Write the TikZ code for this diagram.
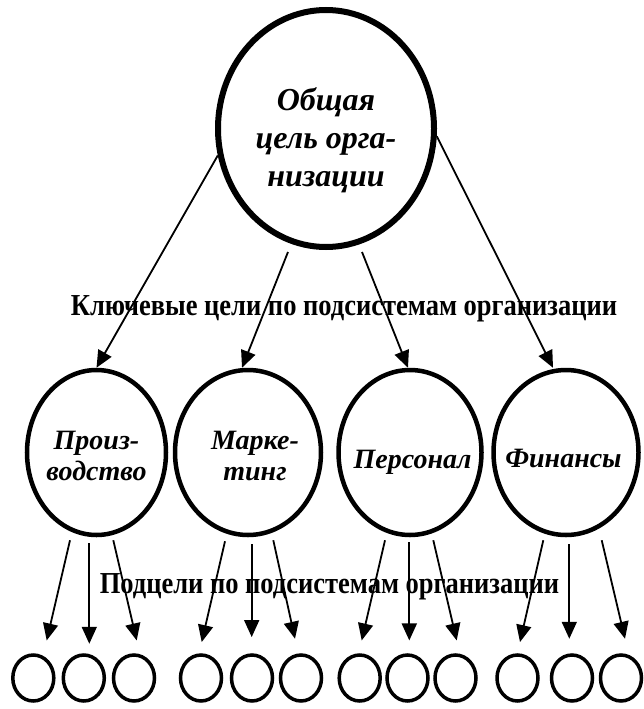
\documentclass[tikz,border=0pt]{standalone}
\usepackage{fontspec}
\setmainfont{Liberation Serif}
\usetikzlibrary{arrows.meta,shapes.geometric}
\begin{document}
\begin{tikzpicture}[x=1pt,y=-1pt,
 bigell/.style={draw, ellipse, line width=6pt, minimum width=216pt, minimum height=237pt, inner sep=0pt},
 midell/.style={draw, ellipse, line width=4.5pt, minimum height=165pt, inner sep=0pt},
 smallell/.style={draw, ellipse, line width=3.5pt, minimum width=41pt, minimum height=46pt, inner sep=0pt},
 toptxt/.style={font=\fontsize{32}{38}\selectfont\bfseries\itshape, align=center, inner sep=0pt},
 midtxt/.style={font=\fontsize{28}{31}\selectfont\bfseries\itshape, align=center, inner sep=0pt},
 lbl/.style={font=\fontsize{26.5}{30}\selectfont\bfseries, inner sep=0pt, anchor=base},
 arr/.style={line width=1.8pt, -{Triangle[length=17pt,width=15pt]}}
]
\useasboundingbox (0,0) rectangle (643,709);

% labels
\node[lbl] (keylbl) at (344,315) {\scalebox{1}[1.15]{Ключевые цели по подсистемам организации}};
\node[lbl] (sublbl) at (329.5,593) {\scalebox{1}[1.15]{Подцели по подсистемам организации}};

% top ellipse
\node[bigell] (top) at (326,128.5) {};
\node[toptxt] (toptext) at (326,140) {Общая\\цель орга-\\низации};

% middle ellipses
\node[midell, minimum width=139pt] (p1) at (96.5,452.5) {};
\node[midell, minimum width=146pt] (p2) at (248,452.5) {};
\node[midell, minimum width=143pt] (p3) at (410,452.5) {};
\node[midell, minimum width=145pt] (p4) at (566,452.5) {};
\node[midtxt] (t1) at (96.5,456) {Произ-\\водство};
\node[midtxt] (t2) at (255,456) {Марке-\\тинг};
\node[midtxt, anchor=base] (t3) at (412.5,468) {Персонал};
\node[midtxt, anchor=base] (t4) at (563.5,467) {Финансы};

% small circles
\foreach \i/\x in {1/33.3,2/83.8,3/134,4/201,5/252,6/301,7/359.7,8/407.5,9/455.5,10/517.5,11/572,12/621}
  \node[smallell] (c\i) at (\x,678) {};

% arrows from top
\draw[arr] (top.194) -- (p1.north);
\draw[arr] ([xshift=-38pt,yshift=-2pt]top.south) -- ([xshift=-6pt]p2.north);
\draw[arr] ([xshift=36pt,yshift=-2pt]top.south) -- ([xshift=-2pt]p3.north);
\draw[arr] (top.356) -- ([xshift=-13pt]p4.north);

% arrows to sub-goals
\draw[arr] ([xshift=-26.5pt,yshift=-3pt]p1.south) -- ([xshift=13.4pt,yshift=12.8pt]c1.north);
\draw[arr] ([xshift=-7.2pt,yshift=-6pt]p1.south) -- ([xshift=5.5pt,yshift=9.5pt]c2.north);
\draw[arr] ([xshift=16.8pt,yshift=-3pt]p1.south) -- ([xshift=2.7pt,yshift=12.8pt]c3.north);

\draw[arr] ([xshift=-23pt,yshift=-4pt]p2.south) -- ([xshift=0.7pt,yshift=11.2pt]c4.north);
\draw[arr] ([xshift=3.7pt,yshift=-7pt]p2.south) -- ([xshift=-0.3pt,yshift=16.2pt]c5.north);
\draw[arr] ([xshift=25.3pt,yshift=-3pt]p2.south) -- ([xshift=-6pt,yshift=14.5pt]c6.north);

\draw[arr] ([xshift=-25pt,yshift=-3pt]p3.south) -- ([xshift=2pt,yshift=12.8pt]c7.north);
\draw[arr] ([xshift=-0.7pt,yshift=-5pt]p3.south) -- ([xshift=1.8pt,yshift=12.8pt]c8.north);
\draw[arr] ([xshift=23.3pt,yshift=-3pt]p3.south) -- ([xshift=1.2pt,yshift=12.8pt]c9.north);

\draw[arr] ([xshift=-22.7pt,yshift=-3pt]p4.south) -- ([xshift=2.5pt,yshift=11.2pt]c10.north);
\draw[arr] ([xshift=3.3pt,yshift=-7pt]p4.south) -- ([xshift=-2.7pt,yshift=14.5pt]c11.north);
\draw[arr] ([xshift=35.7pt,yshift=-3pt]p4.south) -- ([xshift=4pt,yshift=14.5pt]c12.north);
\end{tikzpicture}
\end{document}
